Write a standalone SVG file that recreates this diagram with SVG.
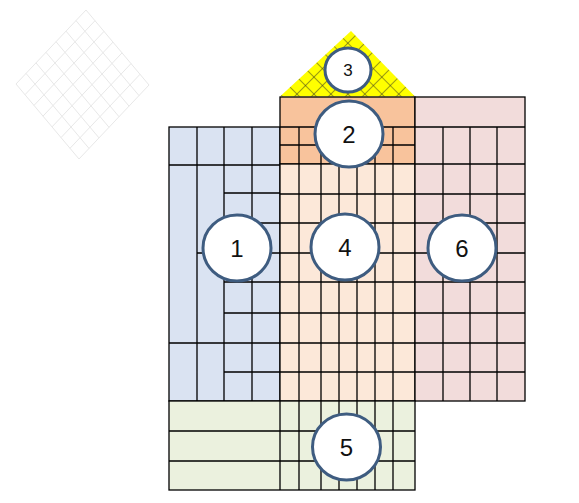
<svg xmlns="http://www.w3.org/2000/svg" width="579" height="503" viewBox="0 0 579 503">
<defs>
<style>
.g{stroke:#000;stroke-width:1.3;fill:none}
.f{stroke:#000;stroke-width:1.3}
.d{stroke:#e8e8e8;stroke-width:1;fill:none}
.c{fill:#fff;stroke:#3e5c80;stroke-width:3}
.t{font-family:"Liberation Sans",Arial,sans-serif;font-size:24px;fill:#111;text-anchor:middle}
.ts{font-family:"Liberation Sans",Arial,sans-serif;font-size:17px;fill:#111;text-anchor:middle}
</style>
<pattern id="hatch" patternUnits="userSpaceOnUse" width="12" height="12" patternTransform="rotate(45)">
<rect width="12" height="12" fill="#ffff00"/>
<line x1="0" y1="0" x2="12" y2="0" stroke="#3a3a20" stroke-width="1"/>
<line x1="0" y1="0" x2="0" y2="12" stroke="#3a3a20" stroke-width="1"/>
</pattern>
</defs>
<rect width="579" height="503" fill="#fff"/>

<g id="diamond" class="d">
<path d="M86,10L16,84M95,20.7L25,94.7M104,31.4L34,105.4M113,42.1L43,116.1M122,52.9L52,126.9M131,63.6L61,137.6M140,74.3L70,148.3M149,85L79,159"/>
<path d="M86,10L149,85M76,20.6L139,95.6M66,31.1L129,106.1M56,41.7L119,116.7M46,52.3L109,127.3M36,62.9L99,137.9M26,73.4L89,148.4M16,84L79,159"/>
</g>

<g id="region3">
<polygon points="280,96.5 351,31 415,96.5" fill="url(#hatch)"/>
</g>

<g id="region1">
<rect x="169" y="127" width="111" height="274" fill="#dae3f2" class="f"/>
<path class="g" d="M197,127V401M224,127V401M252,127V401M169,165H280M224,193H280M224,223H280M197,253H280M224,282H280M224,313H280M169,343H280M224,372H280"/>
</g>

<g id="region2">
<rect x="280" y="97" width="135" height="67" fill="#f8c39c" class="f"/>
<path class="g" d="M280,127H415M280,145H415M299,127V164M321,127V164M339,127V164M357,127V164M375,127V164M393,127V164"/>
</g>

<g id="region4">
<rect x="280" y="164" width="135" height="237" fill="#fce8d9" class="f"/>
<path class="g" d="M299,164V401M321,164V401M339,164V401M357,164V401M375,164V401M393,164V401M280,194H415M280,223H415M280,253H415M280,282H415M280,313H415M280,343H415M280,372H415"/>
</g>

<g id="region6">
<rect x="415" y="97" width="110" height="304" fill="#f2dcdb" class="f"/>
<path class="g" d="M415,127H525M443,127V401M470,127V401M497,127V401M415,164H525M415,194H525M415,223H525M415,253H525M415,282H525M415,313H525M415,343H525M415,372H525"/>
</g>

<g id="region5">
<rect x="169" y="401" width="246" height="89" fill="#ebf1de" class="f"/>
<path class="g" d="M169,431H415M169,461H415M280,401V490M299,401V490M321,401V490M339,401V490M357,401V490M375,401V490M393,401V490"/>
</g>

<g id="connectors"></g>

<g id="node3"><ellipse class="c" cx="348" cy="70" rx="23" ry="22"/><text class="ts" x="348" y="76">3</text></g>
<g id="node2"><ellipse class="c" cx="349" cy="134" rx="34" ry="33"/><text class="t" x="349" y="142.5">2</text></g>
<g id="node1"><ellipse class="c" cx="237" cy="248" rx="34" ry="33"/><text class="t" x="237" y="256.5">1</text></g>
<g id="node4"><ellipse class="c" cx="345" cy="247" rx="34" ry="33"/><text class="t" x="345" y="255.5">4</text></g>
<g id="node6"><ellipse class="c" cx="462" cy="248" rx="34" ry="33"/><text class="t" x="462" y="256.5">6</text></g>
<g id="node5"><ellipse class="c" cx="346.5" cy="447" rx="34" ry="33"/><text class="t" x="346.5" y="455.5">5</text></g>
</svg>
